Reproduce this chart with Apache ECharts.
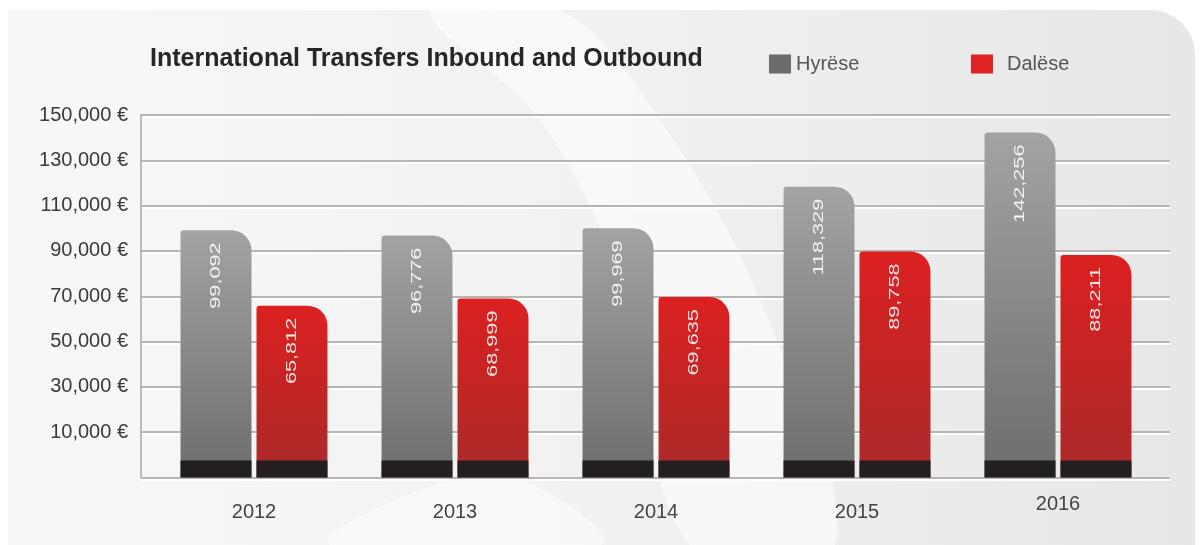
<!DOCTYPE html>
<html>
<head>
<meta charset="utf-8">
<script src="https://cdn.jsdelivr.net/npm/echarts@6/dist/echarts.min.js"></script>
<style>
  html, body { margin: 0; padding: 0; background: #ffffff; }
  #chart { width: 1201px; height: 545px; }
</style>
</head>
<body>
<div id="chart"></div>
<script>
// Yearly transfer totals in euro
const years = ['2012', '2013', '2014', '2015', '2016'];
const inbound = [99092, 96776, 99969, 118329, 142256];   // Hyrëse
const outbound = [65812, 68999, 69635, 89758, 88211];    // Dalëse
const seriesNames = ['Hyrëse', 'Dalëse'];
const chartTitle = 'International Transfers Inbound and Outbound';

// Value axis: ticks run from the (unlabelled) baseline in steps of 20,000
const axisMin = -10000;
const axisMax = 150000;
const axisStep = 20000;

const fmt = v => Math.round(v).toLocaleString('en-US');

const chart = echarts.init(document.getElementById('chart'), null, { renderer: 'canvas' });

const grayFill = new echarts.graphic.LinearGradient(0, 0, 0, 1, [
  { offset: 0, color: '#a3a3a3' },
  { offset: 1, color: '#6d6d6d' }
]);
const redFill = new echarts.graphic.LinearGradient(0, 0, 0, 1, [
  { offset: 0, color: '#dc2020' },
  { offset: 1, color: '#a92a2a' }
]);

// Draws one bar of a pair: side -1 = left bar, +1 = right bar.
function barRenderer(side, fill) {
  return function (params, api) {
    const idx = api.value(0);
    const val = api.value(1);
    const band = api.size([1, 0])[0];
    const w = band * 0.353;
    const gap = band * 0.025;
    const top = api.coord([idx, val]);
    const base = api.coord([idx, axisMin]);
    const x = side < 0 ? top[0] - gap / 2 - w : top[0] + gap / 2;
    const h = base[1] - top[1];
    const foot = 17;
    return {
      type: 'group',
      children: [
        {
          type: 'rect',
          shape: { x: x, y: top[1], width: w, height: h, r: [3, 20, 0, 0] },
          style: { fill: fill }
        },
        {
          type: 'rect',
          shape: { x: x, y: base[1] - foot, width: w, height: foot },
          style: { fill: '#231f20' }
        },
        {
          type: 'text',
          x: x + w / 2,
          y: top[1] + 12,
          rotation: Math.PI / 2,
          scaleX: 1.55,
          style: {
            text: fmt(val),
            fill: 'rgba(255,255,255,0.88)',
            font: '14px Arial, "Liberation Sans", sans-serif',
            align: 'right',
            verticalAlign: 'middle'
          }
        }
      ]
    };
  };
}

const option = {
  backgroundColor: '#ffffff',
  animation: false,
  title: {
    text: chartTitle,
    left: 145,
    top: 42,
    textStyle: {
      fontFamily: 'Arial, "Liberation Sans", sans-serif',
      fontSize: 25,
      fontWeight: 'bold',
      color: '#262626'
    }
  },
  legend: [
    {
      data: [seriesNames[0]],
      left: 769,
      top: 54,
      padding: 0,
      icon: 'rect',
      itemWidth: 22,
      itemHeight: 19,
      selectedMode: false,
      textStyle: { fontFamily: 'Arial, "Liberation Sans", sans-serif', fontSize: 20, color: '#555' }
    },
    {
      data: [seriesNames[1]],
      left: 971,
      top: 54,
      padding: 0,
      icon: 'rect',
      itemWidth: 22,
      itemHeight: 19,
      selectedMode: false,
      textStyle: { fontFamily: 'Arial, "Liberation Sans", sans-serif', fontSize: 20, color: '#555', padding: [0, 0, 0, 9] }
    }
  ],
  graphic: [
    {
      type: 'rect',
      z: -10,
      silent: true,
      shape: { x: 8, y: 10, width: 1187, height: 560, r: [0, 45, 0, 0] },
      style: {
        fill: new echarts.graphic.LinearGradient(0, 0, 1, 0, [
          { offset: 0, color: '#f8f8f8' },
          { offset: 0.5, color: '#f1f1f1' },
          { offset: 1, color: '#e7e7e7' }
        ])
      }
    },
    {
      type: 'polygon',
      z: -9,
      silent: true,
      shape: {
        points: [[430, 10], [540, 120], [620, 280], [690, 545], [835, 545], [760, 300], [660, 120], [560, 10]],
        smooth: 0.35
      },
      style: { fill: 'rgba(255,255,255,0.55)' }
    },
    {
      type: 'polygon',
      z: -9,
      silent: true,
      shape: {
        points: [[330, 545], [420, 490], [520, 480], [600, 545]],
        smooth: 0.4
      },
      style: { fill: 'rgba(255,255,255,0.5)' }
    }
  ],
  grid: [
    { left: 141, right: 31, top: 115, bottom: 67.5 },
    { left: 153.5, right: 42.5, top: 115, bottom: 67.5 }
  ],
  xAxis: [
    { gridIndex: 0, type: 'category', data: years, show: false },
    {
      gridIndex: 1,
      type: 'category',
      data: years.map((y, i) => i === years.length - 1 ? { value: y, textStyle: { lineHeight: 4 } } : y),
      axisLine: { show: false },
      axisTick: { show: false },
      splitLine: { show: false },
      axisLabel: {
        margin: 25,
        fontFamily: 'Arial, "Liberation Sans", sans-serif',
        fontSize: 20,
        color: '#444'
      }
    }
  ],
  yAxis: [
    {
      gridIndex: 0,
      type: 'value',
      min: axisMin,
      max: axisMax,
      interval: axisStep,
      axisLine: { show: true, lineStyle: { color: '#a8a8a8', width: 1.5 } },
      axisTick: { show: false },
      axisLabel: {
        margin: 13,
        fontFamily: 'Arial, "Liberation Sans", sans-serif',
        fontSize: 20,
        color: '#3a3a3a',
        formatter: v => (v < 0 ? '' : fmt(v) + ' €')
      },
      splitLine: {
        show: true,
        lineStyle: { color: '#b6b6b6', width: 2, shadowColor: '#ffffff', shadowOffsetY: 2, shadowBlur: 0 }
      }
    },
    { gridIndex: 1, type: 'value', min: axisMin, max: axisMax, interval: axisStep, show: false }
  ],
  series: [
    {
      name: seriesNames[0],
      type: 'custom',
      xAxisIndex: 1,
      yAxisIndex: 1,
      itemStyle: { color: '#6b6b6b' },
      encode: { x: 0, y: 1 },
      data: inbound.map((v, i) => [i, v]),
      renderItem: barRenderer(-1, grayFill),
      z: 5
    },
    {
      name: seriesNames[1],
      type: 'custom',
      xAxisIndex: 1,
      yAxisIndex: 1,
      itemStyle: { color: '#e02222' },
      encode: { x: 0, y: 1 },
      data: outbound.map((v, i) => [i, v]),
      renderItem: barRenderer(1, redFill),
      z: 5
    }
  ]
};

chart.setOption(option);
</script>
</body>
</html>
